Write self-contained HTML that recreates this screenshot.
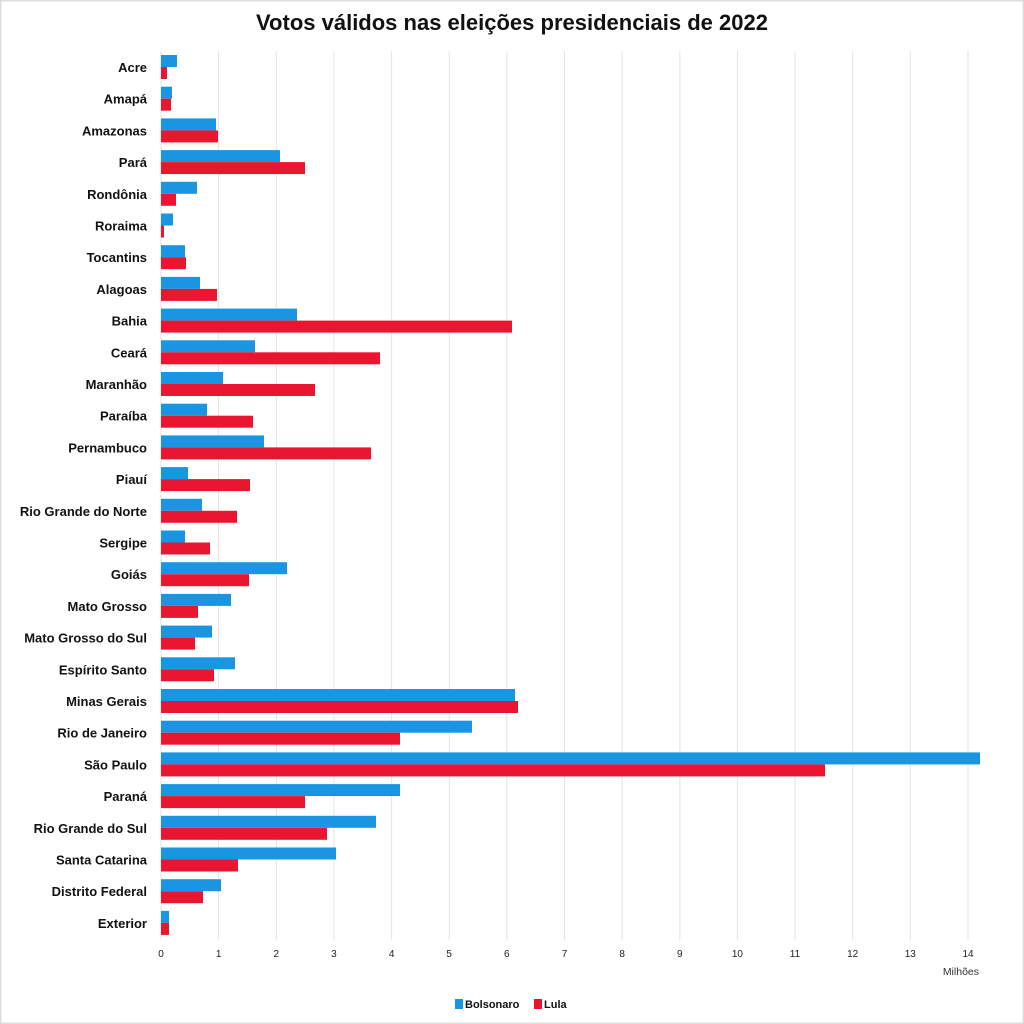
<!DOCTYPE html>
<html><head><meta charset="utf-8"><style>
html,body{margin:0;padding:0;background:#fff}
svg{display:block}
text{font-family:"Liberation Sans",sans-serif}
</style></head><body>
<svg width="1024" height="1024" viewBox="0 0 1024 1024" xmlns="http://www.w3.org/2000/svg">
<rect x="0.5" y="0.5" width="1023" height="1023" fill="#fff" stroke="#ddd" stroke-width="2"/>
<text x="512" y="30" text-anchor="middle" font-size="22" font-weight="bold" fill="#111">Votos válidos nas eleições presidenciais de 2022</text>
<g stroke="#e3e3e3" stroke-width="1">
<line x1="161" y1="51" x2="161" y2="940"/><line x1="218.6" y1="51" x2="218.6" y2="940"/><line x1="276.3" y1="51" x2="276.3" y2="940"/><line x1="333.9" y1="51" x2="333.9" y2="940"/><line x1="391.6" y1="51" x2="391.6" y2="940"/><line x1="449.2" y1="51" x2="449.2" y2="940"/><line x1="506.8" y1="51" x2="506.8" y2="940"/><line x1="564.5" y1="51" x2="564.5" y2="940"/><line x1="622.1" y1="51" x2="622.1" y2="940"/><line x1="679.8" y1="51" x2="679.8" y2="940"/><line x1="737.4" y1="51" x2="737.4" y2="940"/><line x1="795" y1="51" x2="795" y2="940"/><line x1="852.7" y1="51" x2="852.7" y2="940"/><line x1="910.3" y1="51" x2="910.3" y2="940"/><line x1="968" y1="51" x2="968" y2="940"/>
</g>
<g font-size="10" fill="#222" text-anchor="middle">
<text x="161" y="957">0</text><text x="218.6" y="957">1</text><text x="276.3" y="957">2</text><text x="333.9" y="957">3</text><text x="391.6" y="957">4</text><text x="449.2" y="957">5</text><text x="506.8" y="957">6</text><text x="564.5" y="957">7</text><text x="622.1" y="957">8</text><text x="679.8" y="957">9</text><text x="737.4" y="957">10</text><text x="795" y="957">11</text><text x="852.7" y="957">12</text><text x="910.3" y="957">13</text><text x="968" y="957">14</text>
</g>
<text x="979" y="975" font-size="10.5" fill="#333" text-anchor="end">Milhões</text>
<g id="bars">
<rect x="161" y="55" width="16" height="12" fill="#1a95e2"/><rect x="161" y="67" width="6" height="12" fill="#e8162f"/>
<rect x="161" y="86.7" width="11" height="12" fill="#1a95e2"/><rect x="161" y="98.7" width="10" height="12" fill="#e8162f"/>
<rect x="161" y="118.4" width="55" height="12" fill="#1a95e2"/><rect x="161" y="130.4" width="57" height="12" fill="#e8162f"/>
<rect x="161" y="150.1" width="119" height="12" fill="#1a95e2"/><rect x="161" y="162.1" width="144" height="12" fill="#e8162f"/>
<rect x="161" y="181.8" width="36" height="12" fill="#1a95e2"/><rect x="161" y="193.8" width="15" height="12" fill="#e8162f"/>
<rect x="161" y="213.5" width="12" height="12" fill="#1a95e2"/><rect x="161" y="225.5" width="3" height="12" fill="#e8162f"/>
<rect x="161" y="245.2" width="24" height="12" fill="#1a95e2"/><rect x="161" y="257.2" width="25" height="12" fill="#e8162f"/>
<rect x="161" y="276.9" width="39" height="12" fill="#1a95e2"/><rect x="161" y="288.9" width="56" height="12" fill="#e8162f"/>
<rect x="161" y="308.6" width="136" height="12" fill="#1a95e2"/><rect x="161" y="320.6" width="351" height="12" fill="#e8162f"/>
<rect x="161" y="340.3" width="94" height="12" fill="#1a95e2"/><rect x="161" y="352.3" width="219" height="12" fill="#e8162f"/>
<rect x="161" y="372" width="62" height="12" fill="#1a95e2"/><rect x="161" y="384" width="154" height="12" fill="#e8162f"/>
<rect x="161" y="403.7" width="46" height="12" fill="#1a95e2"/><rect x="161" y="415.7" width="92" height="12" fill="#e8162f"/>
<rect x="161" y="435.4" width="103" height="12" fill="#1a95e2"/><rect x="161" y="447.4" width="210" height="12" fill="#e8162f"/>
<rect x="161" y="467.1" width="27" height="12" fill="#1a95e2"/><rect x="161" y="479.1" width="89" height="12" fill="#e8162f"/>
<rect x="161" y="498.8" width="41" height="12" fill="#1a95e2"/><rect x="161" y="510.8" width="76" height="12" fill="#e8162f"/>
<rect x="161" y="530.5" width="24" height="12" fill="#1a95e2"/><rect x="161" y="542.5" width="49" height="12" fill="#e8162f"/>
<rect x="161" y="562.2" width="126" height="12" fill="#1a95e2"/><rect x="161" y="574.2" width="88" height="12" fill="#e8162f"/>
<rect x="161" y="593.9" width="70" height="12" fill="#1a95e2"/><rect x="161" y="605.9" width="37" height="12" fill="#e8162f"/>
<rect x="161" y="625.6" width="51" height="12" fill="#1a95e2"/><rect x="161" y="637.6" width="34" height="12" fill="#e8162f"/>
<rect x="161" y="657.3" width="74" height="12" fill="#1a95e2"/><rect x="161" y="669.3" width="53" height="12" fill="#e8162f"/>
<rect x="161" y="689" width="354" height="12" fill="#1a95e2"/><rect x="161" y="701" width="357" height="12" fill="#e8162f"/>
<rect x="161" y="720.7" width="311" height="12" fill="#1a95e2"/><rect x="161" y="732.7" width="239" height="12" fill="#e8162f"/>
<rect x="161" y="752.4" width="819" height="12" fill="#1a95e2"/><rect x="161" y="764.4" width="664" height="12" fill="#e8162f"/>
<rect x="161" y="784.1" width="239" height="12" fill="#1a95e2"/><rect x="161" y="796.1" width="144" height="12" fill="#e8162f"/>
<rect x="161" y="815.8" width="215" height="12" fill="#1a95e2"/><rect x="161" y="827.8" width="166" height="12" fill="#e8162f"/>
<rect x="161" y="847.5" width="175" height="12" fill="#1a95e2"/><rect x="161" y="859.5" width="77" height="12" fill="#e8162f"/>
<rect x="161" y="879.2" width="60" height="12" fill="#1a95e2"/><rect x="161" y="891.2" width="42" height="12" fill="#e8162f"/>
<rect x="161" y="910.9" width="8" height="12" fill="#1a95e2"/><rect x="161" y="922.9" width="8" height="12" fill="#e8162f"/>
</g>
<g font-size="13" font-weight="bold" fill="#111" text-anchor="end">
<text x="147" y="72">Acre</text>
<text x="147" y="103.7">Amapá</text>
<text x="147" y="135.4">Amazonas</text>
<text x="147" y="167.1">Pará</text>
<text x="147" y="198.8">Rondônia</text>
<text x="147" y="230.5">Roraima</text>
<text x="147" y="262.2">Tocantins</text>
<text x="147" y="293.9">Alagoas</text>
<text x="147" y="325.6">Bahia</text>
<text x="147" y="357.3">Ceará</text>
<text x="147" y="389">Maranhão</text>
<text x="147" y="420.7">Paraíba</text>
<text x="147" y="452.4">Pernambuco</text>
<text x="147" y="484.1">Piauí</text>
<text x="147" y="515.8">Rio Grande do Norte</text>
<text x="147" y="547.5">Sergipe</text>
<text x="147" y="579.2">Goiás</text>
<text x="147" y="610.9">Mato Grosso</text>
<text x="147" y="642.6">Mato Grosso do Sul</text>
<text x="147" y="674.3">Espírito Santo</text>
<text x="147" y="706">Minas Gerais</text>
<text x="147" y="737.7">Rio de Janeiro</text>
<text x="147" y="769.4">São Paulo</text>
<text x="147" y="801.1">Paraná</text>
<text x="147" y="832.8">Rio Grande do Sul</text>
<text x="147" y="864.5">Santa Catarina</text>
<text x="147" y="896.2">Distrito Federal</text>
<text x="147" y="927.9">Exterior</text>
</g>
<rect x="455" y="999" width="8" height="10" fill="#1a95e2"/>
<text x="465" y="1008" font-size="11" font-weight="bold" fill="#111">Bolsonaro</text>
<rect x="534" y="999" width="8" height="10" fill="#e8162f"/>
<text x="544" y="1008" font-size="11" font-weight="bold" fill="#111">Lula</text>
</svg>
</body></html>
